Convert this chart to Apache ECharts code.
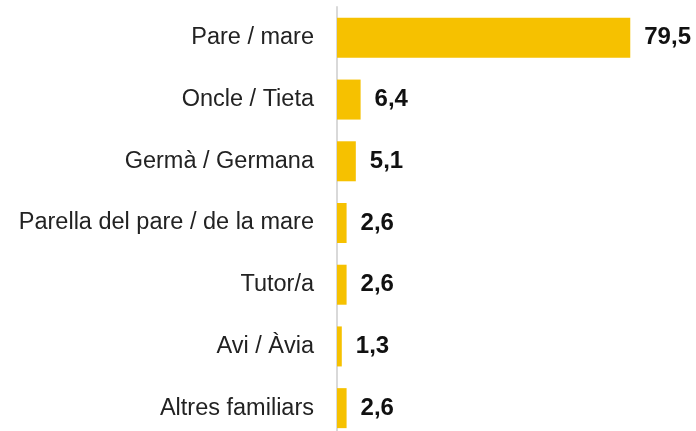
<!DOCTYPE html>
<html>
<head>
<meta charset="utf-8">
<script src="https://cdn.jsdelivr.net/npm/echarts@6/dist/echarts.min.js"></script>
<style>
  html, body { margin: 0; padding: 0; background: #fff; }
  #chart { width: 696px; height: 431px; }
</style>
</head>
<body>
<div id="chart"></div>
<script>
  // data, top to bottom
  var categories = ['Pare / mare', 'Oncle / Tieta', 'Germà / Germana', 'Parella del pare / de la mare', 'Tutor/a', 'Avi / Àvia', 'Altres familiars']
  var values = [79.5, 6.4, 5.1, 2.6, 2.6, 1.3, 2.6]

  var FONT = "'Liberation Sans', Arial, sans-serif"

  var chart = echarts.init(document.getElementById('chart'), null, { renderer: 'canvas' })

  chart.setOption({
    animation: false,
    grid: {
      left: 337,
      top: 7,
      width: 332,
      height: 432,
      outerBoundsMode: 'none'
    },
    xAxis: {
      type: 'value',
      min: 0,
      max: 90,
      show: false
    },
    yAxis: {
      type: 'category',
      inverse: true,
      data: categories.slice(),
      axisLine: {
        show: true,
        lineStyle: { color: '#d9d9d9', width: 2 }
      },
      axisTick: { show: false },
      axisLabel: {
        margin: 23,
        fontFamily: FONT,
        fontSize: 23.5,
        color: '#222'
      }
    },
    series: [{
      type: 'bar',
      data: values.slice(),
      barWidth: 40,
      itemStyle: { color: '#F6C100' },
      label: {
        show: true,
        position: 'right',
        distance: 14,
        fontFamily: FONT,
        fontSize: 24,
        fontWeight: 'bold',
        color: '#111',
        formatter: function (p) {
          return p.value.toFixed(1).replace('.', ',')
        }
      }
    }]
  })
</script>
</body>
</html>
